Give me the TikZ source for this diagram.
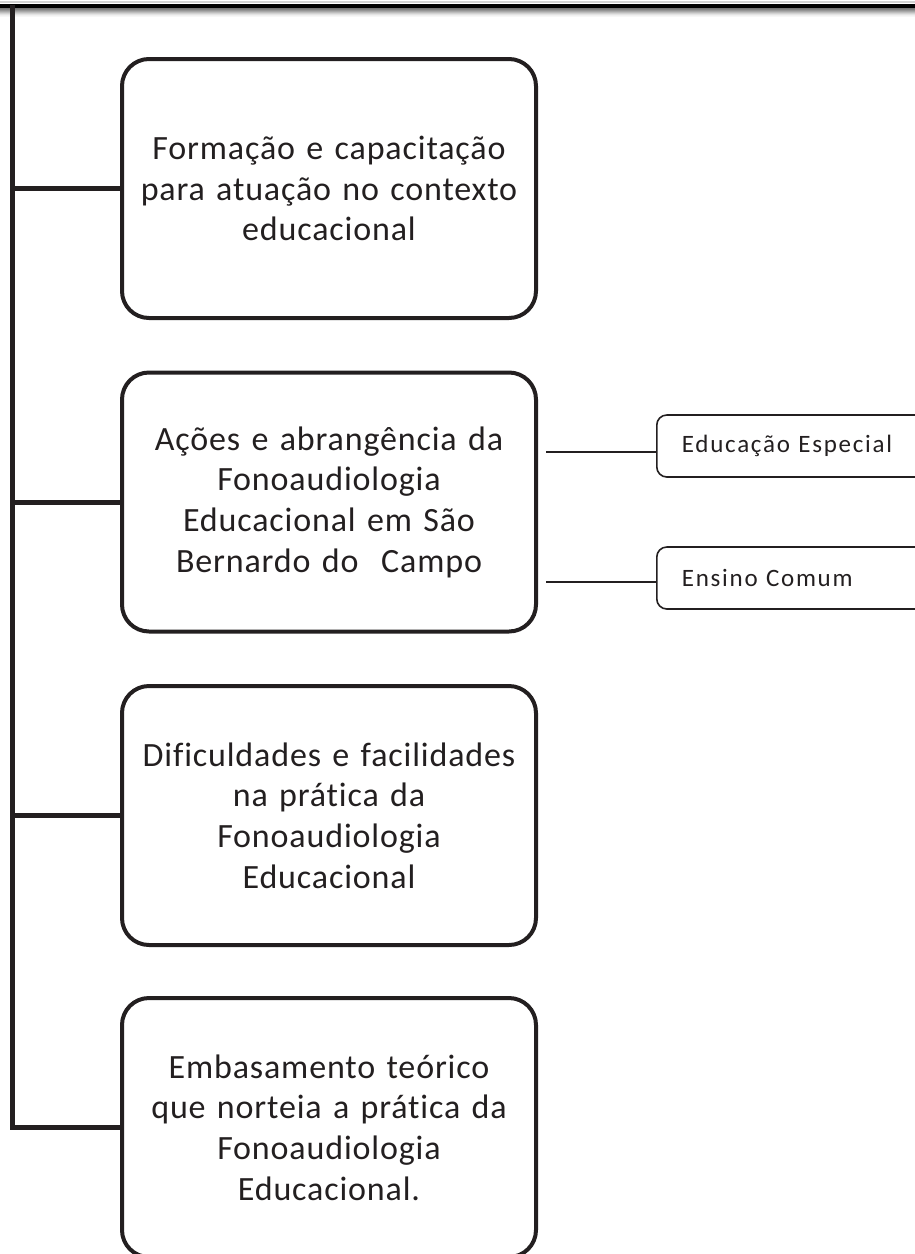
\documentclass[tikz,border=0pt]{standalone}
\usepackage{fontspec}
\setmainfont{Carlito}[Ligatures={NoCommon}]
\newfontfamily\bigfont{Carlito}[Ligatures={NoCommon},LetterSpace=2.5]
\newfontfamily\smallfont{Carlito}[Ligatures={NoCommon},LetterSpace=7]
\definecolor{ink}{RGB}{35,31,32}
\begin{document}
\begin{tikzpicture}[x=1pt,y=-1pt,
  mainbox/.style={draw=ink, line width=4pt, rounded corners=27pt,
    minimum width=414pt, minimum height=259pt, inner sep=0pt,
    text width=405pt, align=center, text=ink,
    font=\bigfont\fontsize{34}{40.7}\selectfont},
  subbox/.style={draw=ink, line width=1.6pt, rounded corners=10pt,
    minimum height=62pt, inner xsep=25pt, inner ysep=0pt,
    text width=250pt, align=left, anchor=west, text=ink,
    font=\smallfont\fontsize{25}{30}\selectfont},
  trunk/.style={draw=ink, line width=5pt, line join=miter},
  twig/.style={draw=ink, line width=1.6pt}]
\useasboundingbox (0,0) rectangle (915,1254);
\clip (0,0) rectangle (915,1254);
% top bar with shadow
\draw[gray!35, line width=1.5pt] (0,2.2) -- (915,2.2);
\fill[black] (0,3.5) rectangle (915,7.5);
\foreach \i/\c in {0/55,1/50,2/42,3/34,4/26,5/18,6/11,7/6,8/3}{
  \fill[black!\c] (0,7.5+\i) rectangle (915,8.5+\i);
}
% main boxes
\node[mainbox] (b1) at (329,188.5) {Formação e capacitação\\para atuação no contexto\\educacional};
\node[mainbox] (b2) at (329,502) {Ações e abrangência da\\Fonoaudiologia\\Educacional em São\\Bernardo do\ \ Campo};
\node[mainbox] (b3) at (329,815.5) {Dificuldades e facilidades\\na prática da\\Fonoaudiologia\\Educacional};
\node[mainbox] (b4) at (329,1127.5) {Embasamento teórico\\que norteia a prática da\\Fonoaudiologia\\Educacional.};
% sub boxes
\node[subbox] (s1) at (656,446) {Educação Especial};
\node[subbox] (s2) at (656,578) {Ensino Comum};
% trunk
\coordinate (t0) at (12,5);
\draw[trunk] (t0) -- (t0 |- b4.west) -- (b4.west);
\draw[trunk] (t0 |- b1.west) -- (b1.west);
\draw[trunk] (t0 |- b2.west) -- (b2.west);
\draw[trunk] (t0 |- b3.west) -- (b3.west);
% twigs
\coordinate (c1) at (546,452);
\coordinate (c2) at (546,582);
\draw[twig] (c1) -- (c1 -| s1.west);
\draw[twig] (c2) -- (c2 -| s2.west);
\end{tikzpicture}
\end{document}
